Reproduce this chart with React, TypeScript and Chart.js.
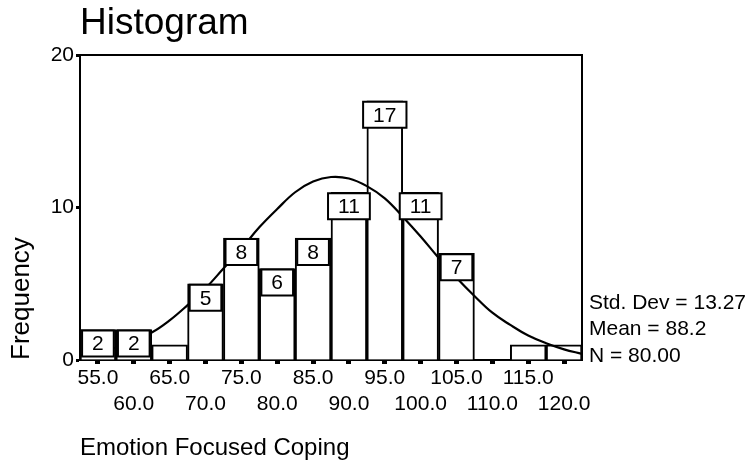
import { useEffect, useRef } from "react";
import { Chart, registerables } from "chart.js";

Chart.register(...registerables);

const binCenters = [55, 60, 65, 70, 75, 80, 85, 90, 95, 100, 105, 110, 115, 120];
const frequencies = [2, 2, 1, 5, 8, 6, 8, 11, 17, 11, 7, 0, 1, 1];
const xTickLabels = ["55.0", "60.0", "65.0", "70.0", "75.0", "80.0", "85.0", "90.0", "95.0", "100.0", "105.0", "110.0", "115.0", "120.0"];
const yTickValues = [0, 10, 20];

// normal curve (frequency at each x)
const curveX = [52.5, 55, 57.5, 60, 62.5, 65, 67.5, 70, 72.5, 75, 77.5, 80, 82.5, 85, 87.5, 90, 92.5, 95, 97.5, 100, 102.5, 105, 107.5, 110, 112.5, 115, 117.5, 120, 122.5];
const curveY = [0.3, 0.5, 0.8, 1.3, 1.8, 2.6, 3.6, 4.7, 6.0, 7.3, 8.7, 9.9, 11.0, 11.7, 12.0, 11.9, 11.4, 10.6, 9.4, 8.1, 6.7, 5.4, 4.2, 3.1, 2.3, 1.6, 1.1, 0.7, 0.4];

const statsLines = ["Std. Dev = 13.27", "Mean = 88.2", "N = 80.00"];
const chartTitle = "Histogram";
const xTitle = "Emotion Focused Coping";
const yTitle = "Frequency";

const FONT = '"Liberation Sans", Arial, Helvetica, sans-serif';

const overlayPlugin = {
  id: "overlay",
  afterDatasetsDraw(chart: any) {
    const ctx = chart.ctx as CanvasRenderingContext2D;
    const a = chart.chartArea;
    ctx.save();
    ctx.strokeStyle = "#000";
    ctx.lineWidth = 2;
    ctx.beginPath();
    ctx.moveTo(a.left, a.top);
    ctx.lineTo(a.right, a.top);
    ctx.lineTo(a.right, a.bottom);
    ctx.stroke();

    const meta = chart.getDatasetMeta(1);
    ctx.font = `21px ${FONT}`;
    meta.data.forEach((el: any, i: number) => {
      const v = frequencies[i];
      if (v < 2) return;
      const t = String(v);
      const w = ctx.measureText(t).width + 20;
      const h = 26;
      const x = el.x - w / 2;
      const y = el.y + 1;
      ctx.fillStyle = "#fff";
      ctx.fillRect(x, y, w, h);
      ctx.lineWidth = 2;
      ctx.strokeStyle = "#000";
      ctx.strokeRect(x, y, w, h);
      ctx.fillStyle = "#000";
      ctx.textAlign = "center";
      ctx.textBaseline = "middle";
      ctx.fillText(t, el.x, y + h / 2 + 1);
    });

    ctx.fillStyle = "#000";
    ctx.textAlign = "left";
    ctx.textBaseline = "alphabetic";
    ctx.font = `21px ${FONT}`;
    statsLines.forEach((s, i) => {
      ctx.fillText(s, a.right + 7, a.bottom - 51.5 + i * 26.5);
    });
    ctx.restore();
  },
};

export default function App() {
  const ref = useRef<HTMLCanvasElement | null>(null);
  useEffect(() => {
    if (!ref.current) return;
    const chart = new Chart(ref.current, {
      type: "bar",
      data: {
        datasets: [
          {
            type: "line",
            data: curveX.map((x, i) => ({ x, y: curveY[i] })),
            borderColor: "#000",
            borderWidth: 2.2,
            pointRadius: 0,
            tension: 0.4,
            fill: false,
            order: 0,
          } as any,
          {
            type: "bar",
            data: binCenters.map((x, i) => ({ x, y: frequencies[i] })),
            backgroundColor: "#fff",
            borderColor: "#000",
            borderWidth: 2,
            barPercentage: 1,
            categoryPercentage: 1,
            order: 1,
          } as any,
        ],
      },
      options: {
        animation: false,
        responsive: false,
        events: [],
        color: "#000",
        layout: { padding: { left: 0, right: 170, top: 0, bottom: 0 } },
        plugins: {
          legend: { display: false },
          tooltip: { enabled: false },
          title: {
            display: true,
            text: chartTitle,
            align: "start",
            fullSize: false,
            color: "#000",
            font: { size: 37, family: FONT, weight: "normal" },
            padding: { top: 2, bottom: 8.6 },
          },
        },
        scales: {
          x: {
            type: "linear",
            min: 52.5,
            max: 122.5,
            offset: false,
            z: 1,
            afterBuildTicks: (scale: any) => {
              scale.ticks = binCenters.map((v) => ({ value: v }));
            },
            afterFit: (scale: any) => {
              scale.height = 108;
            },
            grid: {
              offset: false,
              drawOnChartArea: false,
              drawTicks: true,
              tickLength: 4,
              tickWidth: 5,
              tickColor: "#000",
              color: "#000",
            },
            border: { display: true, color: "#000", width: 2 },
            ticks: {
              autoSkip: false,
              maxRotation: 0,
              minRotation: 0,
              padding: 1,
              color: "#000",
              font: { size: 21, family: FONT, lineHeight: 26 / 21 },
              callback: (_v: any, i: number) => (i % 2 === 0 ? xTickLabels[i] : ["", xTickLabels[i]]),
            },
            title: {
              display: true,
              text: xTitle,
              align: "start",
              color: "#000",
              font: { size: 24, family: FONT },
              padding: { top: 0, bottom: 5 },
            },
          } as any,
          y: {
            min: 0,
            max: 20,
            z: 1,
            afterBuildTicks: (scale: any) => {
              scale.ticks = yTickValues.map((v) => ({ value: v }));
            },
            afterFit: (scale: any) => {
              scale.width = 80;
            },
            grid: {
              drawOnChartArea: false,
              tickLength: 4,
              tickWidth: 3,
              tickColor: "#000",
              color: "#000",
            },
            border: { display: true, color: "#000", width: 2 },
            ticks: {
              padding: 2,
              color: "#000",
              font: { size: 21, family: FONT },
            },
            title: {
              display: true,
              text: yTitle,
              align: "start",
              color: "#000",
              font: { size: 26, family: FONT },
              padding: { top: 6.4, bottom: 0 },
            },
          } as any,
        },
      },
      plugins: [overlayPlugin],
    });
    return () => chart.destroy();
  }, []);

  return (
    <div style={{ position: "absolute", left: 0, top: 0, width: 752, height: 468, background: "#fff" }}>
      <canvas ref={ref} width={752} height={468} style={{ width: 752, height: 468, display: "block" }} />
    </div>
  );
}
